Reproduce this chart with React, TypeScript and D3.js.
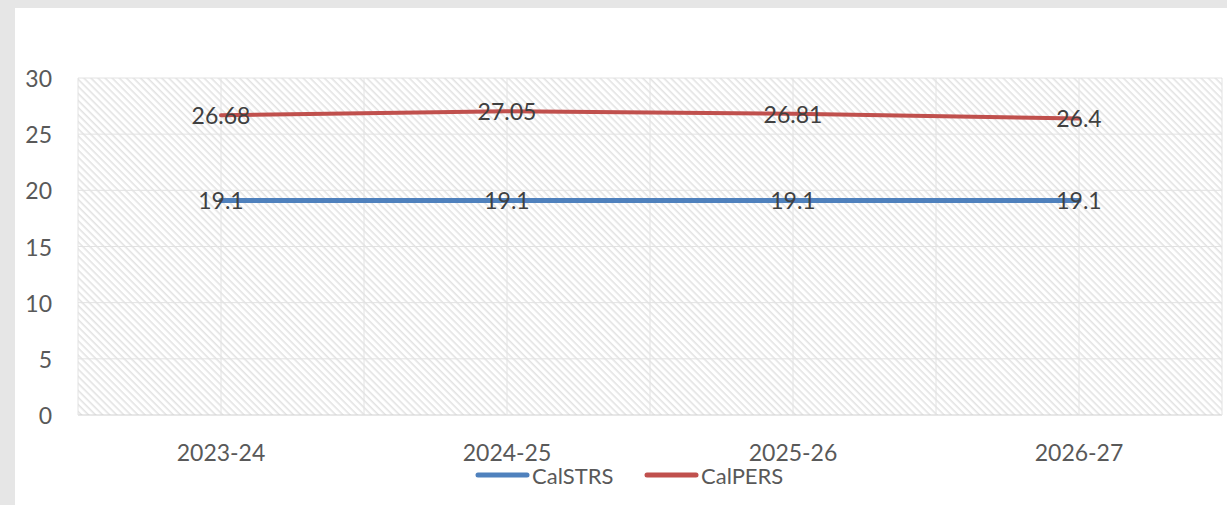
import React from "react";
import * as d3 from "d3";

const categories = ["2023-24", "2024-25", "2025-26", "2026-27"];
const calstrs = [19.1, 19.1, 19.1, 19.1];
const calpers = [26.68, 27.05, 26.81, 26.4];
const yTicks = [0, 5, 10, 15, 20, 25, 30];
const seriesNames = ["CalSTRS", "CalPERS"];

const W = 1227;
const H = 505;
const plot = { left: 78, right: 1222, top: 78, bottom: 415 };
const FONT = "Lato, 'Open Sans', sans-serif";
const colors = ["#4F81BD", "#C0504D"];

export default function App() {
  const x = d3.scaleBand<string>().domain(categories).range([plot.left, plot.right]);
  const cx = (c: string) => (x(c) as number) + x.bandwidth() / 2;
  const y = d3.scaleLinear().domain([0, 30]).range([plot.bottom, plot.top]);

  const line = d3
    .line<number>()
    .x((_, i) => cx(categories[i]))
    .y((d) => y(d));

  const series = [calstrs, calpers];
  const widths = [5, 4];

  const vLines: number[] = [];
  categories.forEach((c) => {
    vLines.push(x(c) as number);
    vLines.push(cx(c));
  });
  vLines.push(plot.right);

  return (
    <div style={{ position: "absolute", left: 0, top: 0 }}>
      <svg width={W} height={H} style={{ display: "block" }}>
        <defs>
          <pattern id="hatch" width="5" height="5" patternUnits="userSpaceOnUse" patternTransform="rotate(45)">
            <rect width="5" height="5" fill="#ffffff" />
            <rect x="0" y="0" width="5" height="1.6" fill="#e3e3e3" />
          </pattern>
        </defs>
        <rect x={0} y={0} width={W} height={H} fill="#e6e6e6" />
        <rect x={15} y={8} width={W - 15} height={H - 8} fill="#ffffff" />
        <rect
          x={plot.left}
          y={plot.top}
          width={plot.right - plot.left}
          height={plot.bottom - plot.top}
          fill="url(#hatch)"
        />
        {yTicks.map((t) => (
          <line
            key={"h" + t}
            x1={plot.left}
            x2={plot.right}
            y1={y(t)}
            y2={y(t)}
            stroke={t === 0 ? "#d0d0d0" : "#e2e2e2"}
            strokeWidth={1}
          />
        ))}
        {vLines.map((v, i) => (
          <line key={"v" + i} x1={v} x2={v} y1={plot.top} y2={plot.bottom} stroke="#e2e2e2" strokeWidth={1} />
        ))}
        {yTicks.map((t) => (
          <text
            key={"yt" + t}
            x={52}
            y={y(t)}
            textAnchor="end"
            dominantBaseline="central"
            fontFamily={FONT}
            fontSize={23}
            fill="#595959"
          >
            {t}
          </text>
        ))}
        {categories.map((c) => (
          <text
            key={"xt" + c}
            x={cx(c)}
            y={461}
            textAnchor="middle"
            fontFamily={FONT}
            fontSize={23}
            fill="#595959"
          >
            {c}
          </text>
        ))}
        {series.map((s, si) => (
          <path
            key={"s" + si}
            d={line(s) as string}
            fill="none"
            stroke={colors[si]}
            strokeWidth={widths[si]}
            strokeLinecap="round"
            strokeLinejoin="round"
          />
        ))}
        {series.map((s, si) =>
          s.map((v, i) => (
            <text
              key={"l" + si + "-" + i}
              x={cx(categories[i])}
              y={y(v)}
              textAnchor="middle"
              dominantBaseline="central"
              fontFamily={FONT}
              fontSize={23}
              fill="#404040"
            >
              {String(v)}
            </text>
          ))
        )}
        {seriesNames.map((n, i) => {
          const lx = [478, 647][i];
          return (
            <g key={"lg" + n}>
              <line
                x1={lx}
                x2={lx + 49}
                y1={475}
                y2={475}
                stroke={colors[i]}
                strokeWidth={5}
                strokeLinecap="round"
              />
              <text x={lx + 54} y={484} fontFamily={FONT} fontSize={22} fill="#595959">
                {n}
              </text>
            </g>
          );
        })}
      </svg>
    </div>
  );
}
